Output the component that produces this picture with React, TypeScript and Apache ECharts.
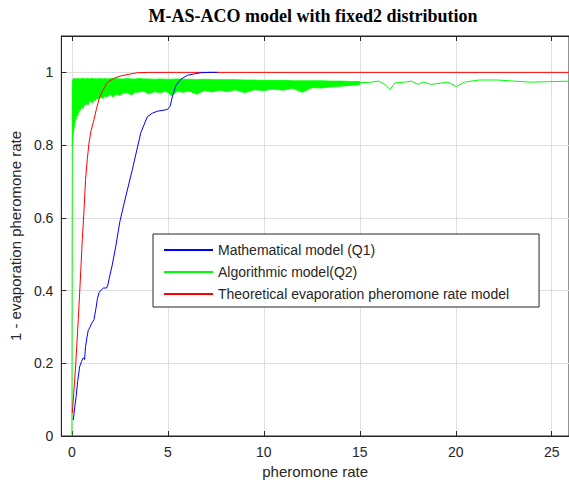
import React, { useEffect, useRef } from "react";
import * as echarts from "echarts";

const titleText = "M-AS-ACO model with fixed2 distribution";
const xAxisName = "pheromone rate";
const yAxisName = "1 - evaporation pheromone rate";
const xTickLabels = [0, 5, 10, 15, 20, 25];
const yTickLabels = [0, 0.2, 0.4, 0.6, 0.8, 1];

const nameMath = "Mathematical model (Q1)";
const nameAlgo = "Algorithmic model(Q2)";
const nameTheo = "Theoretical evaporation pheromone rate model";

// Mathematical model (Q1) - blue
const mathX = [0.07, 0.15, 0.22, 0.3, 0.4, 0.5, 0.59, 0.66, 0.71, 0.78, 0.85, 0.95, 1.03, 1.15, 1.25, 1.32, 1.42, 1.53, 1.65, 1.81, 1.87, 1.93, 2.1, 2.28, 2.5, 2.72, 3.15, 3.59, 3.93, 4.2, 4.45, 4.98, 5.12, 5.24, 5.41, 5.67, 6.02, 6.4, 6.72, 7.2, 7.59];
const mathY = [0.044, 0.08, 0.108, 0.15, 0.19, 0.205, 0.215, 0.21, 0.246, 0.27, 0.29, 0.3, 0.31, 0.32, 0.35, 0.375, 0.395, 0.402, 0.407, 0.407, 0.415, 0.43, 0.47, 0.52, 0.59, 0.64, 0.733, 0.834, 0.878, 0.888, 0.893, 0.898, 0.907, 0.935, 0.963, 0.981, 0.992, 0.996, 0.999, 1.0, 1.0];

// Theoretical evaporation pheromone rate model - red
const theoX = [0.02, 0.1, 0.19, 0.33, 0.42, 0.54, 0.63, 0.71, 0.8, 0.89, 1.0, 1.15, 1.28, 1.41, 1.6, 1.84, 2.2, 2.54, 3.0, 3.41, 4.0, 26];
const theoY = [0.063, 0.12, 0.19, 0.32, 0.41, 0.54, 0.62, 0.705, 0.76, 0.806, 0.84, 0.87, 0.9, 0.926, 0.95, 0.972, 0.984, 0.99, 0.995, 0.999, 1.0, 1.0];

// Algorithmic model (Q2) - green trace (start and smooth tail)
const algoX = [0, 0.02, 0.05, 1, 5, 10, 15.02, 15.45, 15.97, 16.31, 16.57, 16.83, 17.34, 17.69, 18.04, 18.29, 18.72, 19.59, 20.02, 20.44, 21.22, 22.17, 23.89, 26.0];
const algoY = [0, 0.8, 0.965, 0.96, 0.965, 0.968, 0.972, 0.972, 0.976, 0.967, 0.953, 0.971, 0.973, 0.976, 0.967, 0.973, 0.967, 0.973, 0.961, 0.973, 0.979, 0.979, 0.973, 0.976];

// Algorithmic model (Q2) - noisy band envelope
const bandX = [0.02, 0.05, 0.08, 0.1, 0.13, 0.16, 0.19, 0.23, 0.27, 0.31, 0.36, 0.41, 0.46, 0.52, 0.58, 0.64, 0.7, 0.77, 0.84, 0.91, 0.98, 1.06, 1.14, 1.22, 1.3, 1.4, 1.5, 1.6, 1.72, 1.85, 2.0, 2.15, 2.3, 2.5, 2.7, 2.9, 3.1, 3.3, 3.5, 3.75, 4.0, 4.3, 4.6, 4.9, 5.2, 5.5, 5.8, 6.1, 6.5, 6.9, 7.3, 7.7, 8.1, 8.5, 9.0, 9.5, 10.0, 10.5, 11.0, 11.5, 12.0, 12.5, 13.0, 13.5, 14.0, 14.5, 15.0];
const bandLow = [0.8, 0.82, 0.835, 0.84, 0.855, 0.86, 0.87, 0.872, 0.885, 0.88, 0.895, 0.893, 0.9, 0.905, 0.9, 0.912, 0.908, 0.915, 0.91, 0.92, 0.921, 0.915, 0.925, 0.922, 0.93, 0.926, 0.932, 0.928, 0.935, 0.933, 0.939, 0.932, 0.94, 0.937, 0.943, 0.944, 0.938, 0.945, 0.946, 0.948, 0.941, 0.947, 0.944, 0.948, 0.936, 0.948, 0.945, 0.949, 0.94, 0.95, 0.946, 0.951, 0.947, 0.952, 0.944, 0.952, 0.95, 0.954, 0.951, 0.956, 0.945, 0.958, 0.957, 0.96, 0.962, 0.964, 0.966];
const bandHigh = [0.975, 0.98, 0.983, 0.983, 0.982, 0.984, 0.983, 0.982, 0.983, 0.984, 0.982, 0.983, 0.983, 0.982, 0.984, 0.983, 0.982, 0.983, 0.983, 0.982, 0.983, 0.984, 0.982, 0.983, 0.982, 0.983, 0.983, 0.982, 0.983, 0.982, 0.983, 0.982, 0.983, 0.982, 0.982, 0.983, 0.982, 0.982, 0.983, 0.982, 0.982, 0.981, 0.982, 0.981, 0.981, 0.982, 0.981, 0.981, 0.98, 0.981, 0.98, 0.98, 0.98, 0.98, 0.979, 0.979, 0.978, 0.978, 0.978, 0.977, 0.977, 0.977, 0.977, 0.976, 0.976, 0.975, 0.975];

const zip = (xs: number[], ys: number[]) => xs.map((x, i) => [x, ys[i]]);

const axisColor = "#262626";
const gridColor = "#dfdfdf";
const sans = "'Liberation Sans', Arial, sans-serif";

export default function App() {
  const ref = useRef<HTMLDivElement>(null);
  useEffect(() => {
    if (!ref.current) return;
    const chart = echarts.init(ref.current, undefined, { renderer: "svg" });
    const xMin = -0.55;
    const xMax = 25.9;
    const option: any = {
      animation: false,
      backgroundColor: "#ffffff",
      title: {
        text: titleText,
        left: 313,
        top: 7,
        textAlign: "center",
        padding: 0,
        textStyle: { fontFamily: "'Liberation Serif', 'Times New Roman', serif", fontWeight: "bold", fontSize: 18, color: "#000" },
      },
      grid: { left: 57, right: 0, top: 36, bottom: 48, show: true, borderColor: axisColor, borderWidth: 1, backgroundColor: "#fff" },
      legend: {
        orient: "vertical",
        left: 153,
        top: 234,
        data: [nameMath, nameAlgo, nameTheo],
        itemWidth: 49,
        itemHeight: 14,
        itemGap: 8,
        padding: [9, 30, 6, 10],
        borderColor: axisColor,
        borderWidth: 1,
        borderRadius: 0,
        backgroundColor: "#fff",
        itemStyle: { opacity: 0 },
        textStyle: { fontSize: 14, fontFamily: sans, color: axisColor },
      },
      xAxis: [
        {
          type: "value",
          position: "bottom",
          min: xMin,
          max: xMax,
          splitNumber: 5,
          name: xAxisName,
          nameLocation: "middle",
          nameGap: 28,
          nameTextStyle: { fontSize: 15, fontFamily: sans, color: axisColor },
          axisLine: { show: true, onZero: false, lineStyle: { color: axisColor } },
          axisTick: { show: true, inside: true, length: 5, lineStyle: { color: axisColor } },
          axisLabel: {
            margin: 9,
            fontSize: 14,
            fontFamily: sans,
            color: axisColor,
            showMinLabel: false,
            showMaxLabel: false,
            formatter: (v: number) => (xTickLabels.some((t) => Math.abs(t - v) < 1e-6) ? String(v) : ""),
          },
          splitLine: { show: true, lineStyle: { color: gridColor, width: 1 } },
        },
        {
          type: "value",
          position: "top",
          min: xMin,
          max: xMax,
          splitNumber: 5,
          axisLine: { show: true, onZero: false, lineStyle: { color: axisColor } },
          axisTick: { show: true, inside: true, length: 5, lineStyle: { color: axisColor } },
          axisLabel: { show: false },
          splitLine: { show: false },
        },
      ],
      yAxis: {
        type: "value",
        min: 0,
        max: 1.1,
        interval: 0.2,
        name: yAxisName,
        nameLocation: "middle",
        nameGap: 34,
        nameTextStyle: { fontSize: 15, fontFamily: sans, color: axisColor },
        axisLine: { show: true, onZero: false, lineStyle: { color: axisColor } },
        axisTick: { show: true, inside: true, length: 5, lineStyle: { color: axisColor } },
        axisLabel: {
          margin: 8,
          fontSize: 14,
          fontFamily: sans,
          color: axisColor,
          formatter: (v: number) => {
            const t = yTickLabels.find((k) => Math.abs(k - v) < 1e-6);
            return t === undefined ? "" : String(t);
          },
        },
        splitLine: { show: true, lineStyle: { color: gridColor, width: 1 } },
      },
      series: [
        {
          name: "bandFill",
          type: "custom",
          coordinateSystem: "cartesian2d",
          xAxisIndex: 0,
          yAxisIndex: 0,
          data: [[bandX[0], bandHigh[0]]],
          silent: true,
          clip: true,
          z: 1,
          renderItem: (_params: any, api: any) => {
            const pts: number[][] = [];
            for (let i = 0; i < bandX.length; i++) pts.push(api.coord([bandX[i], bandHigh[i]]));
            for (let i = bandX.length - 1; i >= 0; i--) pts.push(api.coord([bandX[i], bandLow[i]]));
            return {
              type: "polygon",
              shape: { points: pts },
              style: { fill: "#00ff00", stroke: "#00ff00", lineWidth: 0.8 },
            };
          },
        },
        {
          name: nameAlgo,
          type: "line",
          data: zip(algoX, algoY),
          symbol: "none",
          color: "#00ff00",
          lineStyle: { width: 1, color: "#00ff00" },
          z: 1,
        },
        {
          name: nameTheo,
          type: "line",
          data: zip(theoX, theoY),
          symbol: "none",
          color: "#ff0000",
          lineStyle: { width: 1, color: "#ff0000" },
          z: 2,
        },
        {
          name: nameMath,
          type: "line",
          data: zip(mathX, mathY),
          symbol: "none",
          color: "#0000ff",
          lineStyle: { width: 1, color: "#0000ff" },
          z: 3,
        },
      ],
    };
    chart.setOption(option);
    return () => chart.dispose();
  }, []);
  return (
    <div
      ref={ref}
      style={{ position: "absolute", left: 0, top: 0, width: 569, height: 484, background: "#fff" }}
    />
  );
}
